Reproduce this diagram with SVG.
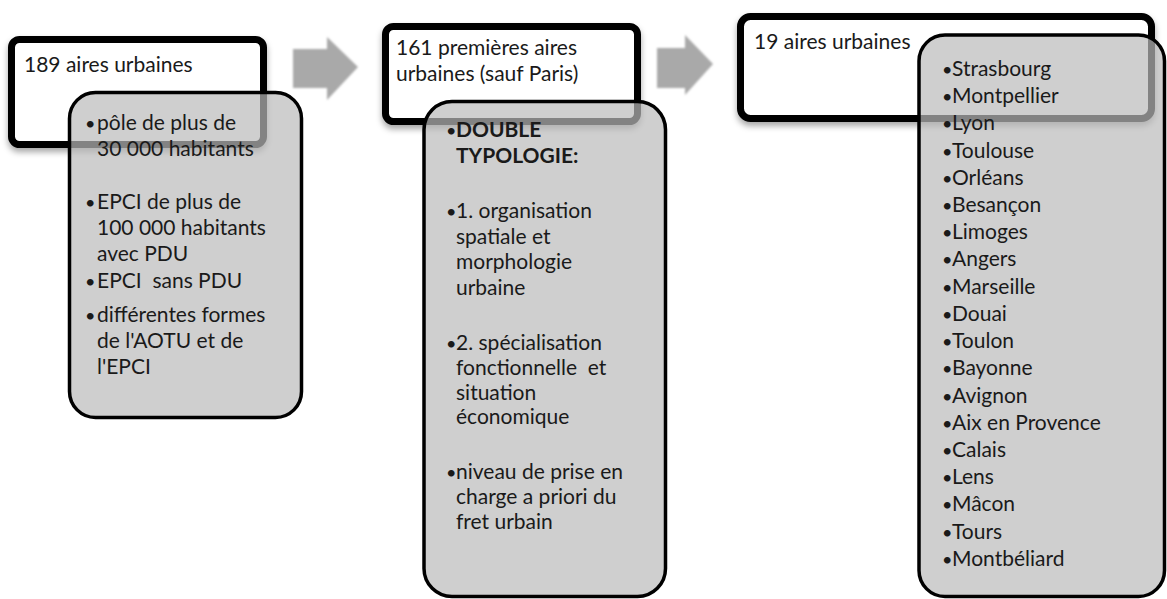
<svg xmlns="http://www.w3.org/2000/svg" width="1167" height="599" viewBox="0 0 1167 599">
<defs>
<filter id="sh" x="-10%" y="-10%" width="120%" height="140%">
<feDropShadow dx="0" dy="4" stdDeviation="3" flood-color="#000" flood-opacity="0.35"/>
</filter>
<filter id="soft" x="-10%" y="-10%" width="120%" height="120%">
<feGaussianBlur stdDeviation="0.8"/>
</filter>
<style>
.wbox{fill:#fff;stroke:#000;stroke-width:7}
.gbox{fill:#bababa;fill-opacity:0.7;stroke:#000;stroke-width:3.5}
.arrow{fill:#a9a9a9}
text{font-family:Lato,"Open Sans","Liberation Sans",sans-serif;font-size:21px;fill:#1a1a1a}
.d{font-size:18px}
.b{font-weight:bold}
.pre{white-space:pre}
</style>
</defs>
<g id="connectors">
<polygon class="arrow" filter="url(#soft)" points="293,49 327,49 327,37 358,67 327,100 327,88 293,88"/>
<polygon class="arrow" filter="url(#soft)" points="657,48 685,48 685,35 713,64 685,95 685,88 657,88"/>
</g>
<g id="node1">
<rect class="wbox" filter="url(#sh)" x="11.5" y="39.5" width="252" height="105" rx="8"/>
<text x="24" y="72">189 aires urbaines</text>
</g>
<g id="node1-list">
<rect class="gbox" x="69.5" y="92.5" width="232" height="325" rx="26"/>
<g>
<text class="d" x="85" y="130">•</text><text x="97" y="130">pôle de plus de</text>
<text x="97" y="156">30 000 habitants</text>
<text class="d" x="85" y="209">•</text><text x="97" y="209">EPCI de plus de</text>
<text x="97" y="235">100 000 habitants</text>
<text x="97" y="261">avec PDU</text>
<text class="d" x="85" y="288">•</text><text class="pre" x="97" y="288" xml:space="preserve">EPCI  sans PDU</text>
<text class="d" x="85" y="322">•</text><text x="97" y="322">différentes formes</text>
<text x="97" y="348">de l'AOTU et de</text>
<text x="97" y="374">l'EPCI</text>
</g>
</g>
<g id="node2">
<rect class="wbox" filter="url(#sh)" x="385.5" y="26.5" width="252" height="95" rx="8"/>
<text x="396" y="55">161 premières aires</text>
<text x="396" y="81">urbaines (sauf Paris)</text>
</g>
<g id="node2-list">
<rect class="gbox" x="424" y="101.5" width="241.5" height="495" rx="28"/>
<text class="d" x="446" y="137">•</text><text class="b" x="456" y="137">DOUBLE</text>
<text class="b" x="456" y="163">TYPOLOGIE:</text>
<text class="d" x="446" y="218">•</text><text x="456" y="218">1. organisation</text>
<text x="456" y="244">spatiale et</text>
<text x="456" y="269">morphologie</text>
<text x="456" y="295">urbaine</text>
<text class="d" x="446" y="350">•</text><text x="456" y="350">2. spécialisation</text>
<text class="pre" x="456" y="375" xml:space="preserve">fonctionnelle  et</text>
<text x="456" y="400">situation</text>
<text x="456" y="424">économique</text>
<text class="d" x="446" y="479">•</text><text x="456" y="479">niveau de prise en</text>
<text x="456" y="504">charge a priori du</text>
<text x="456" y="529">fret urbain</text>
</g>
<g id="node3">
<rect class="wbox" filter="url(#sh)" x="740.5" y="16.5" width="411" height="102" rx="10"/>
<text x="754" y="49">19 aires urbaines</text>
</g>
<g id="node3-list">
<rect class="gbox" x="919" y="35" width="245.5" height="561.5" rx="26"/>
<g>
<text class="d" x="942" y="76">•</text><text x="952" y="76">Strasbourg</text>
<text class="d" x="942" y="103">•</text><text x="952" y="103">Montpellier</text>
<text class="d" x="942" y="130">•</text><text x="952" y="130">Lyon</text>
<text class="d" x="942" y="157.5">•</text><text x="952" y="157.5">Toulouse</text>
<text class="d" x="942" y="184.5">•</text><text x="952" y="184.5">Orléans</text>
<text class="d" x="942" y="212">•</text><text x="952" y="212">Besançon</text>
<text class="d" x="942" y="239">•</text><text x="952" y="239">Limoges</text>
<text class="d" x="942" y="266">•</text><text x="952" y="266">Angers</text>
<text class="d" x="942" y="293.5">•</text><text x="952" y="293.5">Marseille</text>
<text class="d" x="942" y="321">•</text><text x="952" y="321">Douai</text>
<text class="d" x="942" y="348">•</text><text x="952" y="348">Toulon</text>
<text class="d" x="942" y="375">•</text><text x="952" y="375">Bayonne</text>
<text class="d" x="942" y="402.5">•</text><text x="952" y="402.5">Avignon</text>
<text class="d" x="942" y="429.5">•</text><text x="952" y="429.5">Aix en Provence</text>
<text class="d" x="942" y="457">•</text><text x="952" y="457">Calais</text>
<text class="d" x="942" y="484">•</text><text x="952" y="484">Lens</text>
<text class="d" x="942" y="511">•</text><text x="952" y="511">Mâcon</text>
<text class="d" x="942" y="538.5">•</text><text x="952" y="538.5">Tours</text>
<text class="d" x="942" y="565.5">•</text><text x="952" y="565.5">Montbéliard</text>
</g>
</g>
</svg>
